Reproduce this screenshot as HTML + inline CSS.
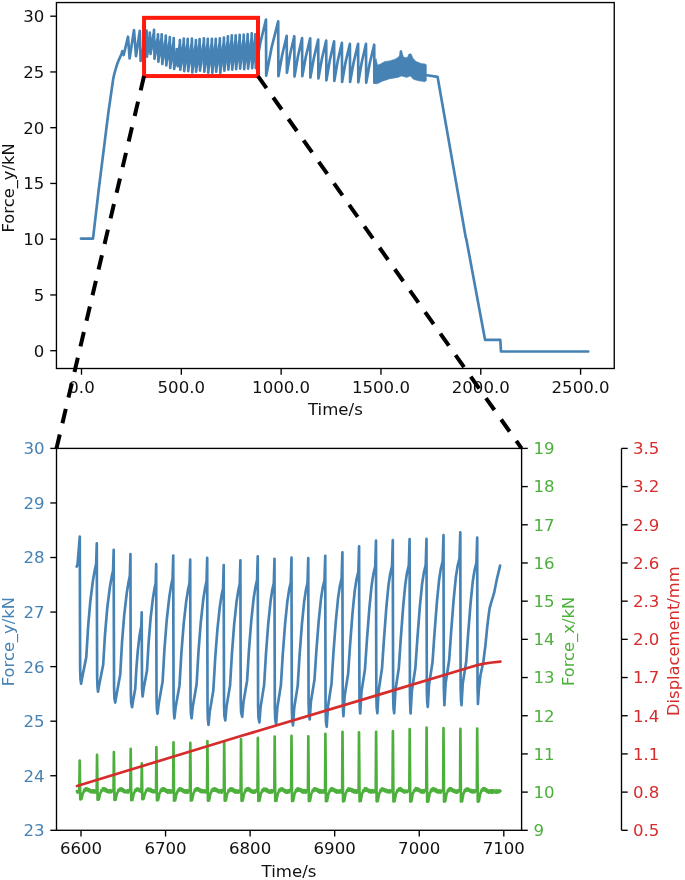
<!DOCTYPE html>
<html lang="en">
<head>
<meta charset="utf-8">
<title>Force / displacement figure</title>
<style>
html,body{margin:0;padding:0;background:#fff;}
body{width:685px;height:880px;overflow:hidden;}
svg{display:block;will-change:transform;}
text{white-space:pre;}
</style>
</head>
<body>
<svg width="685" height="880" viewBox="0 0 685 880">
<rect x="0" y="0" width="685" height="880" fill="#fff"/>
<g fill="none" stroke="#4682b4" stroke-width="2.67" stroke-linejoin="round" stroke-linecap="round">
<path d="M80.9 238.6 L93 238.6 L98.9 188.2 L104.9 140.4 L106.8 125 L108.5 111.7 L110.9 95 L113.3 78.4 L114.6 72.8 L116.1 67.5 L117.6 63 L119.2 59.1 L121.4 54.2 L122.3 51.2 L123.7 55 L128 36.7 L129.6 58.5 L134 30 L136 56.2 L139.8 30.8 L140.6 60.9 L141.08 58.18 L142.49 54.1 L143.21 48.37 L144.11 42.78 L145.04 38.55 L145.73 36.44 L146.33 35.15 L146.6 30.7 L147 56.6 L147.22 54.44 L147.88 51.2 L148.22 46.64 L148.64 42.2 L149.07 38.84 L149.39 37.16 L149.67 36.14 L149.8 32.6 L150.5 54 L150.78 51.82 L151.6 48.55 L152.02 43.96 L152.55 39.48 L153.09 36.09 L153.49 34.4 L153.84 33.37 L154 29.8 L154.5 58.8 L154.78 56.59 L155.6 53.29 L156.02 48.63 L156.55 44.1 L157.09 40.67 L157.49 38.95 L157.84 37.91 L158 34.3 L158.4 61.7 L158.66 59.23 L159.44 55.53 L159.84 50.33 L160.33 45.26 L160.84 41.42 L161.22 39.51 L161.55 38.34 L161.7 34.3 L162.3 64 L162.58 61.45 L163.4 57.63 L163.82 52.26 L164.35 47.02 L164.89 43.06 L165.29 41.08 L165.64 39.87 L165.8 35.7 L166.3 65.4 L166.58 62.84 L167.4 59.01 L167.82 53.61 L168.35 48.36 L168.89 44.38 L169.29 42.4 L169.64 41.19 L169.8 37 L170.2 68 L170.48 65.3 L171.3 61.25 L171.72 55.55 L172.25 50 L172.79 45.8 L173.19 43.7 L173.54 42.42 L173.7 38 L174.2 68.9 L174.41 67.13 L175.02 64.47 L175.33 60.72 L175.72 57.08 L176.12 54.32 L176.42 52.94 L176.68 52.11 L176.8 49.2 L177.7 66.2 L177.88 63.84 L178.39 60.3 L178.66 55.33 L178.99 50.48 L179.33 46.81 L179.58 44.98 L179.8 43.86 L179.9 40 L180.3 69.7 L180.58 66.9 L181.4 62.7 L181.82 56.79 L182.35 51.04 L182.89 46.69 L183.29 44.51 L183.64 43.19 L183.8 38.6 L184.2 71.1 L184.48 68.2 L185.3 63.85 L185.72 57.74 L186.25 51.78 L186.79 47.27 L187.19 45.02 L187.54 43.65 L187.7 38.9 L188.2 71.1 L188.5 68.18 L189.37 63.81 L189.81 57.65 L190.36 51.66 L190.94 47.12 L191.36 44.86 L191.73 43.48 L191.9 38.7 L192.3 72.4 L192.59 69.48 L193.43 65.11 L193.87 58.95 L194.41 52.96 L194.96 48.42 L195.38 46.16 L195.74 44.78 L195.9 40 L196.1 71.7 L196.38 68.78 L197.2 64.39 L197.62 58.21 L198.15 52.2 L198.69 47.65 L199.09 45.38 L199.44 43.99 L199.6 39.2 L200 70.6 L200.31 67.69 L201.23 63.33 L201.69 57.19 L202.28 51.21 L202.88 46.69 L203.33 44.43 L203.72 43.06 L203.89 38.29 L204.34 71.63 L204.61 68.68 L205.42 64.25 L205.83 58.01 L206.35 51.93 L206.88 47.34 L207.28 45.04 L207.62 43.64 L207.77 38.8 L208.22 72.66 L208.51 69.61 L209.37 65.04 L209.81 58.61 L210.35 52.34 L210.92 47.6 L211.33 45.23 L211.7 43.79 L211.86 38.8 L212.31 72.66 L212.59 69.61 L213.39 65.04 L213.8 58.61 L214.32 52.34 L214.85 47.6 L215.25 45.23 L215.59 43.79 L215.74 38.8 L216.19 71.63 L216.48 68.63 L217.34 64.13 L217.78 57.8 L218.32 51.63 L218.89 46.96 L219.3 44.63 L219.67 43.21 L219.83 38.29 L220.28 72.86 L220.57 69.68 L221.43 64.9 L221.86 58.17 L222.41 51.63 L222.97 46.67 L223.39 44.2 L223.76 42.69 L223.92 37.47 L224.37 70.61 L224.65 67.52 L225.48 62.88 L225.91 56.35 L226.44 49.99 L226.98 45.18 L227.39 42.78 L227.75 41.32 L227.9 36.25 L228.35 69.59 L228.63 66.5 L229.44 61.86 L229.85 55.33 L230.36 48.97 L230.89 44.16 L231.29 41.75 L231.63 40.29 L231.79 35.22 L232.24 69.59 L232.51 66.5 L233.32 61.86 L233.73 55.33 L234.25 48.97 L234.78 44.16 L235.17 41.75 L235.52 40.29 L235.67 35.22 L236.12 69.08 L236.4 66 L237.23 61.39 L237.66 54.9 L238.19 48.58 L238.74 43.8 L239.14 41.41 L239.5 39.96 L239.66 34.92 L240.11 68.57 L240.4 65.52 L241.25 60.95 L241.69 54.52 L242.23 48.26 L242.8 43.52 L243.22 41.15 L243.58 39.71 L243.74 34.71 L244.19 69.08 L244.47 65.94 L245.27 61.23 L245.69 54.61 L246.2 48.15 L246.73 43.27 L247.13 40.83 L247.47 39.35 L247.63 34.2 L248.08 68.57 L248.37 65.4 L249.22 60.65 L249.66 53.97 L250.2 47.46 L250.77 42.53 L251.19 40.07 L251.55 38.57 L251.71 33.39 L252.16 68.06 L252.41 65.03 L253.15 60.49 L253.52 54.09 L253.99 47.87 L254.48 43.16 L254.84 40.8 L255.15 39.37 L255.29 34.41 L255.74 68.06 L260.36 42.81 L266 19.5 L266.2 75.7 L271.6 47.46 L278.2 21.4 L278.4 76.2 L282.13 55.19 L286.7 35.8 L286.9 72.8 L290.23 53.77 L294.3 36.2 L294.5 76.6 L297.92 56.58 L302.1 38.1 L302.3 76.2 L305.86 56.54 L310.2 38.4 L310.4 77.6 L313.91 57.84 L318.2 39.6 L318.4 78.5 L321.91 58.74 L326.2 40.5 L326.4 80.4 L329.87 60.07 L334.1 41.3 L334.3 81 L337.72 61.14 L341.9 42.8 L342.1 81.9 L345.61 62.09 L349.9 43.8 L350.1 81.9 L353.7 62.09 L358.1 43.8 L358.3 82.3 L361.76 62.28 L366 43.8 L366.2 82.7 L369.8 62.94 L374.2 44.7 L374.4 82.7"/>
<path d="M374.8 60 L376.1 58.5 L377.5 65 L380.4 63.9 L384.8 61.4 L389.2 60.9 L395 59.2 L398.6 57 L399.5 55 L400 50.6 L401.7 50.6 L402.5 54 L403.4 56.5 L404.6 57.6 L407.2 57.6 L408.1 56 L408.8 54.1 L411 53.8 L411.9 55.5 L412.8 58 L414.5 60 L416.2 61.4 L421.3 63.6 L425.4 63.9 L426.4 65 L426.4 80.4 L425 81.8 L418.4 80.8 L413.3 79.3 L410.4 76 L406.7 77.4 L401.6 76 L398 77.4 L389.2 78.9 L381.9 81.4 L377.5 83.7 L374.8 83.7 Z" fill="#4682b4" stroke-width="0.5"/>
<path d="M426.9 75.3 L437.6 76.9 L465.8 237.8 L466.3 239 L485.1 339.9 L500.3 339.9 L501 351.5 L588.3 351.5"/>
</g>
<rect x="144.05" y="17.83" width="113.95" height="58.22" fill="none" stroke="#ff1a0d" stroke-width="4"/>
<rect x="56.45" y="2.55" width="557.8" height="365.95" fill="none" stroke="#000" stroke-width="1.35"/>
<g stroke="#000" stroke-width="1.35">
<line x1="50.25" y1="350.7" x2="56.45" y2="350.7"/>
<line x1="50.25" y1="294.95" x2="56.45" y2="294.95"/>
<line x1="50.25" y1="239.2" x2="56.45" y2="239.2"/>
<line x1="50.25" y1="183.45" x2="56.45" y2="183.45"/>
<line x1="50.25" y1="127.7" x2="56.45" y2="127.7"/>
<line x1="50.25" y1="71.95" x2="56.45" y2="71.95"/>
<line x1="50.25" y1="16.2" x2="56.45" y2="16.2"/>
<line x1="81.5" y1="368.5" x2="81.5" y2="374.7"/>
<line x1="181.32" y1="368.5" x2="181.32" y2="374.7"/>
<line x1="281.14" y1="368.5" x2="281.14" y2="374.7"/>
<line x1="380.96" y1="368.5" x2="380.96" y2="374.7"/>
<line x1="480.78" y1="368.5" x2="480.78" y2="374.7"/>
<line x1="580.6" y1="368.5" x2="580.6" y2="374.7"/>
</g>
<g font-family="'DejaVu Sans','Liberation Sans',sans-serif" font-size="16.6" fill="#111">
<text x="44.3" y="357.1" text-anchor="end">0</text>
<text x="44.3" y="301.1" text-anchor="end">5</text>
<text x="44.3" y="245.1" text-anchor="end">10</text>
<text x="44.3" y="189.1" text-anchor="end">15</text>
<text x="44.3" y="134.1" text-anchor="end">20</text>
<text x="44.3" y="78.1" text-anchor="end">25</text>
<text x="44.3" y="22.1" text-anchor="end">30</text>
<text x="81.5" y="392.5" text-anchor="middle">0.0</text>
<text x="181.32" y="392.5" text-anchor="middle">500.0</text>
<text x="281.14" y="392.5" text-anchor="middle">1000.0</text>
<text x="380.96" y="392.5" text-anchor="middle">1500.0</text>
<text x="480.78" y="392.5" text-anchor="middle">2000.0</text>
<text x="580.6" y="392.5" text-anchor="middle">2500.0</text>
<text x="335.4" y="414.9" text-anchor="middle">Time/s</text>
<text transform="translate(13.8 187.9) rotate(-90)" text-anchor="middle" font-size="16.35">Force_y/kN</text>
</g>
<g fill="none" stroke-linejoin="round" stroke-linecap="round">
<path d="M76.7 566.6 L77.5 564.5 L79.8 536.7 L79.95 610.25 L80.15 669.09 L80.5 679.39 L81.1 683.8 L82.36 676.78 L86.28 657.12 L88.16 626.24 L90.36 600.96 L93.03 579.9 L94.92 569.37 L96.17 563.76 L96.8 543.4 L96.95 617.55 L97.15 676.87 L97.5 687.25 L98 691.7 L99.26 684.61 L103.18 664.76 L105.06 633.56 L107.26 608.04 L109.93 586.77 L111.82 576.13 L113.07 570.46 L113.7 549.9 L113.85 626.25 L114.05 687.33 L114.4 698.02 L115.2 702.6 L116.42 695.18 L120.23 674.4 L122.06 641.76 L124.2 615.04 L126.79 592.78 L128.62 581.65 L129.84 575.72 L130.45 554.2 L130.6 630.7 L130.8 691.9 L131.15 702.61 L132.1 707.2 L132.87 701.98 L135.25 688.75 L136.4 668.23 L137.76 651.09 L139.37 636.97 L140.52 629.92 L141.31 626.09 L141.7 612.3 L141.85 654.4 L142.05 688.08 L142.4 693.97 L142.6 696.5 L143.69 688.56 L147.04 670.21 L148.67 642.09 L150.61 618.11 L152.87 598.6 L154.48 588.84 L155.64 583.47 L156.2 564.2 L156.35 638.95 L156.55 698.75 L156.9 709.22 L157.5 713.7 L158.76 703.42 L162.61 681.57 L164.5 648.54 L166.76 619.77 L169.35 596.63 L171.21 585.06 L172.59 578.59 L173.25 555.5 L173.4 636.9 L173.6 702.02 L173.95 713.42 L174.4 718.3 L175.66 707.2 L179.5 685.39 L181.39 652.88 L183.68 623.93 L186.25 600.94 L188.11 589.44 L189.53 582.9 L190.2 559.7 L190.35 639 L190.55 702.44 L190.9 713.54 L191.6 718.3 L192.85 706.26 L196.6 684.29 L198.47 651.99 L200.76 622.6 L203.26 599.53 L205.08 587.99 L206.53 581.32 L207.2 557.8 L207.35 641.35 L207.55 708.19 L207.9 719.89 L208.5 724.9 L209.72 712.12 L213.34 690.34 L215.17 658.78 L217.41 629.42 L219.82 606.65 L221.59 595.26 L223.03 588.57 L223.7 565.1 L223.85 642.8 L224.05 704.96 L224.4 715.84 L225.3 720.5 L226.51 706.89 L230.08 685.18 L231.9 654.16 L234.14 624.64 L236.51 602.03 L238.26 590.72 L239.73 583.96 L240.4 560.4 L240.55 638.6 L240.75 701.16 L241.1 712.11 L242.2 716.8 L243.44 702.35 L247.1 680.68 L248.96 650.17 L251.3 620.47 L253.71 597.99 L255.5 586.75 L257.05 579.93 L257.75 556.25 L257.9 639.33 L258.1 705.78 L258.45 717.42 L259.4 722.4 L260.61 706.85 L264.13 684.86 L265.94 654.38 L268.22 624.01 L270.54 601.3 L272.26 589.95 L273.81 582.94 L274.5 558.75 L274.65 641.52 L274.85 707.75 L275.2 719.33 L276.1 724.3 L277.33 707.62 L280.89 685.31 L282.74 654.87 L285.09 623.8 L287.42 600.87 L289.17 589.4 L290.79 582.21 L291.5 557.5 L291.65 641.5 L291.85 708.7 L292.2 720.46 L293 725.5 L294.22 707.91 L297.72 685.61 L299.55 655.67 L301.89 624.37 L304.17 601.55 L305.9 590.14 L307.54 582.86 L308.25 558 L308.4 638.75 L308.6 703.35 L308.95 714.65 L309.7 719.5 L310.94 701.49 L314.48 679.79 L316.35 651.13 L318.76 620.43 L321.05 598.33 L322.8 587.27 L324.51 580.11 L325.25 555.75 L325.4 641.27 L325.6 709.69 L325.95 721.67 L326.7 726.8 L327.96 706.73 L331.5 683.72 L333.38 653.84 L335.84 621.01 L338.12 597.67 L339.88 586 L341.64 578.31 L342.4 552.3 L342.55 634.25 L342.75 699.81 L343.1 711.28 L343.4 716.2 L344.66 695.81 L348.17 673.51 L350.05 645.05 L352.53 612.99 L354.78 590.47 L356.53 579.22 L358.33 571.68 L359.1 546.3 L359.25 629.9 L359.45 696.78 L359.8 708.48 L360.2 713.5 L361.46 691.88 L364.97 669.28 L366.87 640.95 L369.37 608.19 L371.62 585.48 L373.36 574.13 L375.22 566.4 L376 540.5 L376.15 626.9 L376.35 696.02 L376.7 708.12 L377.4 713.3 L378.63 690.8 L382.02 668.29 L383.87 640.6 L386.33 607.71 L388.49 585.21 L390.18 573.95 L392.03 566.17 L392.8 540.2 L392.95 626.75 L393.15 695.99 L393.5 708.11 L394.2 713.3 L395.43 690.67 L398.82 668.03 L400.67 640.18 L403.13 607.1 L405.29 584.47 L406.98 573.15 L408.83 565.32 L409.6 539.2 L409.75 626.3 L409.95 695.98 L410.3 708.17 L410.6 713.4 L411.87 690.71 L415.37 668.03 L417.28 640.11 L419.82 606.95 L422.05 584.27 L423.8 572.93 L425.7 565.08 L426.5 538.9 L426.65 622.95 L426.85 690.19 L427.2 701.96 L427.8 707 L429.06 684.67 L432.51 662.33 L434.39 634.84 L436.91 602.2 L439.1 579.87 L440.83 568.7 L442.71 560.97 L443.5 535.2 L443.65 620.2 L443.85 688.2 L444.2 700.1 L444.4 705.2 L445.67 682.74 L449.17 660.27 L451.08 632.62 L453.62 599.79 L455.85 577.33 L457.6 566.1 L459.5 558.32 L460.3 532.4 L460.45 618.8 L460.65 687.92 L461 700.02 L461.5 705.2 L462.76 683.41 L466.21 661.62 L468.09 634.81 L470.61 602.96 L472.8 581.18 L474.53 570.28 L476.41 562.74 L477.2 537.6 L477.35 620.75 L477.55 687.27 L477.9 698.91 L477.9 703.9 L478.9 689 L480.4 675.5 L483.3 662 L485.3 646.5 L487.2 627.2 L488.6 615.6 L489.7 607.9 L491.6 601.2 L494 593.4 L496.9 579 L500.1 565.6" stroke="#4682b4" stroke-width="2.67"/>
<path d="M76.9 791.2 L77.6 792.6 L78.4 791 L78.8 790.6 L79.35 789.7 L79.7 760.7 L80.25 799.34 L81.4 799.04 L82 796.76 L82.75 793.53 L83.5 792.36 L84.25 789.53 L85 790.94 L85.75 788.3 L86.5 790.06 L87.25 788.52 L88 790.56 L88.75 789.24 L89.5 791.45 L90.25 789.85 L91 792.45 L91.75 790.72 L92.5 792.2 L93.25 790.23 L94 792.48 L94.75 790.67 L95.5 792.45 L96.15 790.6 L96.7 789.7 L97.05 754.9 L97.6 799.74 L98.75 799.44 L99.35 796.94 L100.1 793.68 L100.85 792.25 L101.6 790 L102.35 790.79 L103.1 788.17 L103.85 790.1 L104.6 788.4 L105.35 791.02 L106.1 789.08 L106.85 791.75 L107.6 790.18 L108.35 792.42 L109.1 790.56 L109.85 792.16 L110.6 790.14 L111.35 792.22 L112.1 790.51 L113 790.6 L113.55 789.7 L113.9 752.05 L114.45 799.94 L115.6 799.64 L116.2 797.02 L116.95 793.56 L117.7 792.35 L118.45 789.76 L119.2 790.79 L119.95 788.56 L120.7 790.44 L121.45 788.36 L122.2 790.88 L122.95 789.29 L123.7 791.93 L124.45 790.24 L125.2 792.37 L125.95 790.81 L126.7 792.2 L127.45 790.35 L128.2 792.55 L128.95 790.19 L129.8 790.6 L130.35 789.7 L130.7 748.9 L131.25 800.16 L132.4 799.86 L133 797.12 L133.75 793.51 L134.5 792.36 L135.25 789.94 L136 790.96 L136.75 788.6 L137.5 790.21 L138.25 788.63 L139 790.89 L139.75 789.32 L140.5 791.68 L140.9 790.6 L141.45 789.7 L141.8 763.35 L142.35 799.15 L143.5 798.85 L144.1 796.78 L144.85 793.67 L145.6 792.33 L146.35 789.88 L147.1 790.65 L147.85 788.5 L148.6 790.41 L149.35 788.81 L150.1 791.03 L150.85 789.15 L151.6 791.64 L152.35 790.2 L153.1 792.21 L153.85 790.5 L154.6 792.23 L155.5 790.6 L156.05 789.7 L156.4 747.1 L156.95 800.29 L158.1 799.99 L158.7 797.11 L159.45 793.51 L160.2 792.38 L160.95 789.56 L161.7 790.76 L162.45 788.31 L163.2 790.55 L163.95 788.26 L164.7 790.8 L165.45 789.31 L166.2 791.94 L166.95 790.29 L167.7 792.71 L168.45 790.39 L169.2 792.38 L169.95 790.32 L170.7 792.63 L171.45 790.67 L172.2 792.19 L172.6 790.6 L173.15 789.7 L173.5 742.3 L174.05 800.62 L175.2 800.32 L175.8 797.25 L176.55 793.54 L177.3 792.29 L178.05 789.77 L178.8 790.97 L179.55 788.24 L180.3 790.03 L181.05 788.46 L181.8 790.76 L182.55 789.32 L183.3 791.98 L184.05 790.21 L184.8 792.5 L185.55 790.6 L186.3 792.53 L187.05 790.13 L187.8 792.64 L188.55 790.57 L189.4 790.6 L189.95 789.7 L190.3 742.85 L190.85 800.58 L192 800.28 L192.6 797.36 L193.35 793.64 L194.1 792.31 L194.85 789.72 L195.6 790.68 L196.35 788.46 L197.1 790.06 L197.85 788.25 L198.6 790.66 L199.35 789.07 L200.1 791.61 L200.85 789.83 L201.6 792.19 L202.35 790.32 L203.1 792.19 L203.85 790.32 L204.6 792.12 L205.35 790.62 L206.1 792.47 L206.5 790.6 L207.05 789.7 L207.4 741 L207.95 800.71 L209.1 800.41 L209.7 797.28 L210.45 793.55 L211.2 792.31 L211.95 789.7 L212.7 790.69 L213.45 788.59 L214.2 790.62 L214.95 788.49 L215.7 790.83 L216.45 789.03 L217.2 791.47 L217.95 790.01 L218.7 792.35 L219.45 790.72 L220.2 792.22 L220.95 790.11 L221.7 792.67 L222.45 790.42 L223.3 790.6 L223.85 789.7 L224.2 741.8 L224.75 800.66 L225.9 800.36 L226.5 797.26 L227.25 793.6 L228 792.25 L228.75 789.8 L229.5 791.2 L230.25 788.6 L231 790.44 L231.75 788.37 L232.5 790.76 L233.25 789.08 L234 791.87 L234.75 790.12 L235.5 792.66 L236.25 790.42 L237 792.26 L237.75 790.59 L238.5 792.69 L239.25 790.61 L240.1 790.6 L240.65 789.7 L241 739.2 L241.55 800.84 L242.7 800.54 L243.3 797.45 L244.05 793.65 L244.8 792.38 L245.55 789.62 L246.3 790.92 L247.05 788.29 L247.8 790.04 L248.55 788.23 L249.3 790.7 L250.05 789.13 L250.8 791.82 L251.55 790.37 L252.3 792.46 L253.05 790.79 L253.8 792.72 L254.55 790.67 L255.3 792.32 L256.05 790.23 L256.95 790.6 L257.5 789.7 L257.85 737.9 L258.4 800.93 L259.55 800.63 L260.15 797.38 L260.9 793.54 L261.65 792.28 L262.4 789.86 L263.15 791.15 L263.9 788.58 L264.65 790.31 L265.4 788.6 L266.15 791.02 L266.9 789.03 L267.65 791.8 L268.4 790.35 L269.15 792.66 L269.9 790.68 L270.65 792.41 L271.4 790.21 L272.15 792.57 L272.9 790.3 L273.8 790.6 L274.35 789.7 L274.7 736.55 L275.25 801.03 L276.4 800.73 L277 797.52 L277.75 793.67 L278.5 792.31 L279.25 789.72 L280 791.18 L280.75 788.51 L281.5 790.13 L282.25 788.29 L283 790.63 L283.75 789.52 L284.5 791.89 L285.25 789.89 L286 792.69 L286.75 790.81 L287.5 792.52 L288.25 790.31 L289 792.43 L289.75 790.18 L290.6 790.6 L291.15 789.7 L291.5 735.8 L292.05 801.08 L293.2 800.78 L293.8 797.4 L294.55 793.67 L295.3 792.36 L296.05 789.8 L296.8 791.17 L297.55 788.34 L298.3 790.55 L299.05 788.71 L299.8 790.66 L300.55 789.13 L301.3 791.58 L302.05 789.94 L302.8 792.55 L303.55 790.38 L304.3 792.38 L305.05 790.18 L305.8 792.65 L306.55 790.31 L307.4 790.6 L307.95 789.7 L308.3 736.3 L308.85 801.04 L310 800.74 L310.6 797.47 L311.35 793.61 L312.1 792.41 L312.85 789.74 L313.6 791.16 L314.35 788.38 L315.1 790.34 L315.85 788.53 L316.6 790.55 L317.35 789.24 L318.1 791.52 L318.85 789.8 L319.6 792.67 L320.35 790.33 L321.1 792.41 L321.85 790.54 L322.6 792.43 L323.35 790.3 L324.1 792.41 L324.5 790.6 L325.05 789.7 L325.4 733.9 L325.95 801.21 L327.1 800.91 L327.7 797.55 L328.45 793.64 L329.2 792.26 L329.95 789.82 L330.7 790.76 L331.45 788.24 L332.2 790.49 L332.95 788.52 L333.7 790.87 L334.45 789.43 L335.2 791.95 L335.95 790.07 L336.7 792.56 L337.45 790.53 L338.2 792.43 L338.95 790.52 L339.7 792.37 L340.45 790.42 L341.2 792.39 L341.6 790.6 L342.15 789.7 L342.5 731.8 L343.05 801.36 L344.2 801.06 L344.8 797.68 L345.55 793.63 L346.3 792.4 L347.05 790.05 L347.8 790.77 L348.55 788.41 L349.3 790.59 L350.05 788.72 L350.8 790.62 L351.55 789.05 L352.3 791.67 L353.05 789.84 L353.8 792.34 L354.55 790.27 L355.3 792.53 L356.05 790.57 L356.8 792.64 L357.55 790.19 L358.1 790.6 L358.65 789.7 L359 732.3 L359.55 801.32 L360.7 801.02 L361.3 797.63 L362.05 793.62 L362.8 792.27 L363.55 790.01 L364.3 791.19 L365.05 788.21 L365.8 790.6 L366.55 788.45 L367.3 790.83 L368.05 789.57 L368.8 791.9 L369.55 789.9 L370.3 792.45 L371.05 790.54 L371.8 792.33 L372.55 790.22 L373.3 792.29 L374.05 790.53 L374.8 792.11 L375.2 790.6 L375.75 789.7 L376.1 731.8 L376.65 801.36 L377.8 801.06 L378.4 797.61 L379.15 793.58 L379.9 792.25 L380.65 789.68 L381.4 790.99 L382.15 788.39 L382.9 790.06 L383.65 788.8 L384.4 791.01 L385.15 789.56 L385.9 791.47 L386.65 789.96 L387.4 792.22 L388.15 790.69 L388.9 792.29 L389.65 790.18 L390.4 792.35 L391.15 790.65 L392 790.6 L392.55 789.7 L392.9 731.2 L393.45 801.4 L394.6 801.1 L395.2 797.68 L395.95 793.55 L396.7 792.27 L397.45 790.03 L398.2 790.96 L398.95 788.5 L399.7 790.08 L400.45 788.25 L401.2 790.95 L401.95 789.23 L402.7 791.45 L403.45 790.36 L404.2 792.58 L404.95 790.71 L405.7 792.18 L406.45 790.61 L407.2 792.14 L407.95 790.62 L408.8 790.6 L409.35 789.7 L409.7 729 L410.25 801.55 L411.4 801.25 L412 797.67 L412.75 793.56 L413.5 792.34 L414.25 790.04 L415 790.78 L415.75 788.16 L416.5 790.34 L417.25 788.36 L418 790.6 L418.75 789.07 L419.5 791.44 L420.25 789.92 L421 792.38 L421.75 790.41 L422.5 792.58 L423.25 790.27 L424 792.4 L424.75 790.21 L425.7 790.6 L426.25 789.7 L426.6 727.6 L427.15 801.65 L428.3 801.35 L428.9 797.69 L429.65 793.5 L430.4 792.29 L431.15 789.49 L431.9 791.05 L432.65 788.41 L433.4 790.14 L434.15 788.5 L434.9 791.1 L435.65 789.04 L436.4 791.9 L437.15 790.06 L437.9 792.49 L438.65 790.73 L439.4 792.36 L440.15 790.4 L440.9 792.51 L441.65 790.69 L442.6 790.6 L443.15 789.7 L443.5 728.2 L444.05 801.61 L445.2 801.31 L445.8 797.68 L446.55 793.65 L447.3 792.37 L448.05 789.86 L448.8 790.86 L449.55 788.29 L450.3 790.06 L451.05 788.29 L451.8 790.58 L452.55 789.42 L453.3 791.56 L454.05 789.9 L454.8 792.25 L455.55 790.73 L456.3 792.65 L457.05 790.5 L457.8 792.27 L458.55 790.25 L459.5 790.6 L460.05 789.7 L460.4 728.9 L460.95 801.56 L462.1 801.26 L462.7 797.65 L463.45 793.58 L464.2 792.27 L464.95 789.75 L465.7 790.77 L466.45 788.66 L467.2 790.61 L467.95 788.54 L468.7 790.68 L469.45 789.56 L470.2 791.59 L470.95 790.01 L471.7 792.2 L472.45 790.46 L473.2 792.41 L473.95 790.4 L474.7 792.22 L475.45 790.4 L476.3 790.6 L476.85 789.7 L477.2 728.5 L477.75 801.59 L478.9 801.29 L479.5 797.61 L480.25 793.55 L481 792.26 L481.75 789.72 L482.5 790.64 L483.25 788.09 L484 790.21 L484.75 788.35 L485.5 790.89 L486.25 789.29 L487 791.86 L487.75 790.19 L488.5 792.62 L489.25 790.75 L490 792.36 L490.75 790.3 L491.5 792.69 L492.25 790.19 L493 792.53 L493.75 790.49 L494.5 792.13 L495.25 790.6 L496 792.64 L496.75 790.48 L497.5 792.54 L498.25 790.59 L499 792.18 L499.75 790.41 L500.4 791" stroke="#4daf3c" stroke-width="2.67"/>
<path d="M77 786 L240 736.3 L380 694.4 L470 667.3 L477.4 665.1 L484 663.6 L492 662.5 L500.4 661.6" stroke="#d62c2c" stroke-width="2.67"/>
</g>
<g stroke="#000" stroke-width="1.35" fill="none">
<rect x="56.5" y="448.4" width="465.1" height="381.9"/>
<line x1="621.5" y1="448.4" x2="621.5" y2="830.3"/>
<line x1="50.3" y1="448.4" x2="56.5" y2="448.4"/>
<line x1="50.3" y1="502.96" x2="56.5" y2="502.96"/>
<line x1="50.3" y1="557.51" x2="56.5" y2="557.51"/>
<line x1="50.3" y1="612.07" x2="56.5" y2="612.07"/>
<line x1="50.3" y1="666.63" x2="56.5" y2="666.63"/>
<line x1="50.3" y1="721.19" x2="56.5" y2="721.19"/>
<line x1="50.3" y1="775.74" x2="56.5" y2="775.74"/>
<line x1="50.3" y1="830.3" x2="56.5" y2="830.3"/>
<line x1="521.6" y1="448.4" x2="527.8" y2="448.4"/>
<line x1="621.5" y1="448.4" x2="627.7" y2="448.4"/>
<line x1="521.6" y1="486.59" x2="527.8" y2="486.59"/>
<line x1="621.5" y1="486.59" x2="627.7" y2="486.59"/>
<line x1="521.6" y1="524.78" x2="527.8" y2="524.78"/>
<line x1="621.5" y1="524.78" x2="627.7" y2="524.78"/>
<line x1="521.6" y1="562.97" x2="527.8" y2="562.97"/>
<line x1="621.5" y1="562.97" x2="627.7" y2="562.97"/>
<line x1="521.6" y1="601.16" x2="527.8" y2="601.16"/>
<line x1="621.5" y1="601.16" x2="627.7" y2="601.16"/>
<line x1="521.6" y1="639.35" x2="527.8" y2="639.35"/>
<line x1="621.5" y1="639.35" x2="627.7" y2="639.35"/>
<line x1="521.6" y1="677.54" x2="527.8" y2="677.54"/>
<line x1="621.5" y1="677.54" x2="627.7" y2="677.54"/>
<line x1="521.6" y1="715.73" x2="527.8" y2="715.73"/>
<line x1="621.5" y1="715.73" x2="627.7" y2="715.73"/>
<line x1="521.6" y1="753.92" x2="527.8" y2="753.92"/>
<line x1="621.5" y1="753.92" x2="627.7" y2="753.92"/>
<line x1="521.6" y1="792.11" x2="527.8" y2="792.11"/>
<line x1="621.5" y1="792.11" x2="627.7" y2="792.11"/>
<line x1="521.6" y1="830.3" x2="527.8" y2="830.3"/>
<line x1="621.5" y1="830.3" x2="627.7" y2="830.3"/>
<line x1="81" y1="830.3" x2="81" y2="836.5"/>
<line x1="165.56" y1="830.3" x2="165.56" y2="836.5"/>
<line x1="250.12" y1="830.3" x2="250.12" y2="836.5"/>
<line x1="334.68" y1="830.3" x2="334.68" y2="836.5"/>
<line x1="419.24" y1="830.3" x2="419.24" y2="836.5"/>
<line x1="503.8" y1="830.3" x2="503.8" y2="836.5"/>
</g>
<g font-family="'DejaVu Sans','Liberation Sans',sans-serif" font-size="16.6">
<text x="44.6" y="454.1" text-anchor="end" fill="#4682b4">30</text>
<text x="44.6" y="509.1" text-anchor="end" fill="#4682b4">29</text>
<text x="44.6" y="563.1" text-anchor="end" fill="#4682b4">28</text>
<text x="44.6" y="618.1" text-anchor="end" fill="#4682b4">27</text>
<text x="44.6" y="673.1" text-anchor="end" fill="#4682b4">26</text>
<text x="44.6" y="727.1" text-anchor="end" fill="#4682b4">25</text>
<text x="44.6" y="782.1" text-anchor="end" fill="#4682b4">24</text>
<text x="44.6" y="836.1" text-anchor="end" fill="#4682b4">23</text>
<text x="533.4" y="454.1" fill="#4daf3c">19</text>
<text x="633.0" y="454.1" fill="#d62c2c">3.5</text>
<text x="533.4" y="492.1" fill="#4daf3c">18</text>
<text x="633.0" y="492.1" fill="#d62c2c">3.2</text>
<text x="533.4" y="531.1" fill="#4daf3c">17</text>
<text x="633.0" y="531.1" fill="#d62c2c">2.9</text>
<text x="533.4" y="569.1" fill="#4daf3c">16</text>
<text x="633.0" y="569.1" fill="#d62c2c">2.6</text>
<text x="533.4" y="607.1" fill="#4daf3c">15</text>
<text x="633.0" y="607.1" fill="#d62c2c">2.3</text>
<text x="533.4" y="645.1" fill="#4daf3c">14</text>
<text x="633.0" y="645.1" fill="#d62c2c">2.0</text>
<text x="533.4" y="683.1" fill="#4daf3c">13</text>
<text x="633.0" y="683.1" fill="#d62c2c">1.7</text>
<text x="533.4" y="722.1" fill="#4daf3c">12</text>
<text x="633.0" y="722.1" fill="#d62c2c">1.4</text>
<text x="533.4" y="760.1" fill="#4daf3c">11</text>
<text x="633.0" y="760.1" fill="#d62c2c">1.1</text>
<text x="533.4" y="798.1" fill="#4daf3c">10</text>
<text x="633.0" y="798.1" fill="#d62c2c">0.8</text>
<text x="533.4" y="836.1" fill="#4daf3c">9</text>
<text x="633.0" y="836.1" fill="#d62c2c">0.5</text>
<text x="81" y="854.0" text-anchor="middle" fill="#111">6600</text>
<text x="165.56" y="854.0" text-anchor="middle" fill="#111">6700</text>
<text x="250.12" y="854.0" text-anchor="middle" fill="#111">6800</text>
<text x="334.68" y="854.0" text-anchor="middle" fill="#111">6900</text>
<text x="419.24" y="854.0" text-anchor="middle" fill="#111">7000</text>
<text x="503.8" y="854.0" text-anchor="middle" fill="#111">7100</text>
<text x="289" y="876.9" text-anchor="middle" fill="#111">Time/s</text>
<text transform="translate(13.6 641.65) rotate(-90)" text-anchor="middle" font-size="16.35" fill="#4682b4">Force_y/kN</text>
<text transform="translate(574.1 641.45) rotate(-90)" text-anchor="middle" font-size="16.35" fill="#4daf3c">Force_x/kN</text>
<text transform="translate(678.7 641.15) rotate(-90)" text-anchor="middle" font-size="16.35" fill="#d62c2c">Displacement/mm</text>
</g>
<line x1="144.05" y1="76.05" x2="56.5" y2="448.4" stroke="#000" stroke-width="4" stroke-dasharray="14.7 11.6"/>
<line x1="258" y1="76.05" x2="521.6" y2="448.4" stroke="#000" stroke-width="4" stroke-dasharray="14.7 11.6"/>
</svg>
</body>
</html>
